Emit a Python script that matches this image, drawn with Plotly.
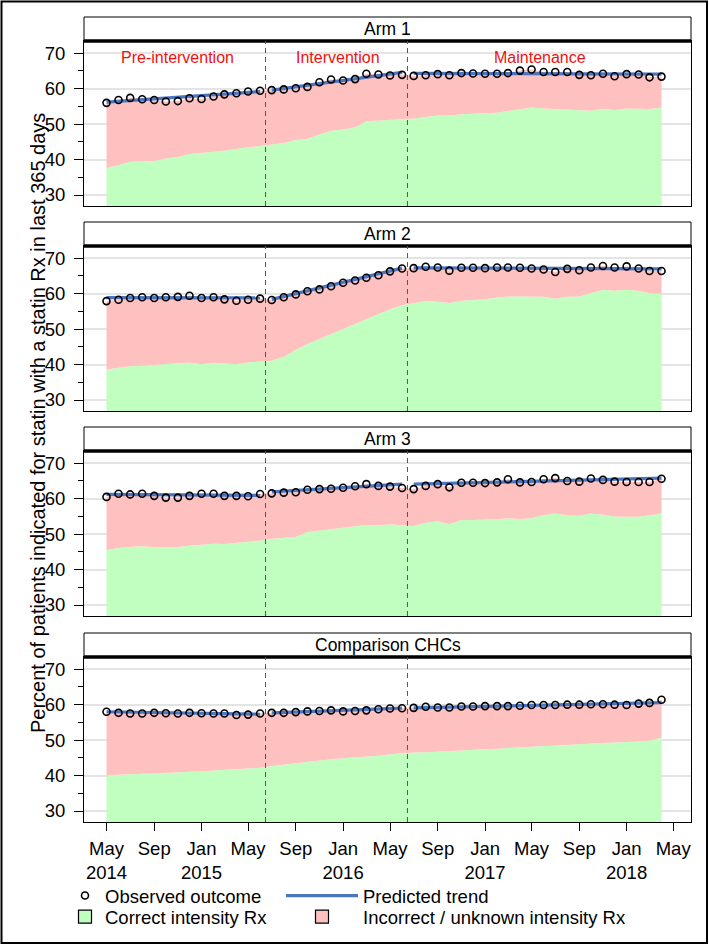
import plotly.graph_objects as go
import pandas as pd

# ---------------- data ----------------
months = pd.date_range("2014-05-01", "2018-04-01", freq="MS")
phase_names = ["Pre-intervention", "Intervention", "Maintenance"]
phase_lengths = [14, 12, 22]
phase_breaks = ["2015-06-15", "2016-06-15"]
phase_label_x = ["2014-11-01", "2015-12-20", "2017-05-22"]
panel_titles = ["Arm 1", "Arm 2", "Arm 3", "Comparison CHCs"]

obs_arm1 = [56.0, 56.8, 57.4, 57.0, 56.8, 56.4, 56.5, 57.3, 57.1, 57.8, 58.4, 58.7, 59.2, 59.4,
            59.6, 59.8, 60.1, 60.5, 61.8, 62.6, 62.3, 62.7, 64.2, 64.0, 63.7, 63.9,
            63.6, 63.8, 64.1, 63.8, 64.4, 64.3, 64.2, 64.2, 64.4, 65.1, 65.4, 64.7, 64.7, 64.7,
            63.9, 63.8, 64.2, 63.5, 64.1, 64.0, 63.2, 63.4]
correct_arm1 = [37.6, 38.4, 39.4, 39.5, 39.6, 40.3, 40.7, 41.6, 41.8, 42.2, 42.5, 43.1, 43.5, 43.8,
                44.2, 44.7, 45.5, 45.9, 47.1, 48.1, 48.5, 49.1, 50.8, 51.0, 51.3, 51.3,
                51.6, 52.0, 52.4, 52.4, 52.8, 52.9, 53.1, 53.2, 53.7, 54.2, 54.7, 54.4, 54.3, 54.2,
                54.1, 53.8, 54.3, 54.0, 54.4, 54.4, 54.3, 54.7]
trend_arm1 = [56.2, 59.2, 59.6, 64.6, 64.3, 64.1]

obs_arm2 = [57.9, 58.3, 58.8, 59.0, 58.8, 59.0, 59.1, 59.4, 58.8, 59.0, 58.4, 58.0, 58.3, 58.6,
            58.2, 59.0, 59.8, 60.7, 61.2, 62.1, 63.1, 63.7, 64.5, 65.2, 66.3, 67.1,
            67.2, 67.6, 67.4, 66.5, 67.3, 67.3, 67.2, 67.4, 67.4, 67.3, 67.1, 66.8, 66.1, 67.0,
            66.6, 67.4, 67.8, 67.4, 67.7, 67.1, 66.4, 66.4]
correct_arm2 = [38.6, 39.1, 39.5, 39.7, 40.0, 40.2, 40.4, 40.6, 40.1, 40.5, 40.4, 40.1, 40.6, 40.8,
                41.1, 42.2, 44.2, 45.8, 47.2, 48.7, 50.0, 51.5, 52.7, 54.2, 55.6, 56.7,
                57.3, 57.9, 57.7, 57.4, 58.0, 58.2, 58.4, 58.9, 59.2, 59.2, 59.2, 59.1, 58.6, 59.1,
                59.2, 60.1, 61.1, 60.8, 61.1, 60.8, 60.1, 60.0]
trend_arm2 = [58.9, 58.8, 58.4, 67.2, 67.3, 67.0]

obs_arm3 = [60.5, 61.4, 61.2, 61.4, 60.8, 60.3, 60.3, 60.8, 61.4, 61.4, 60.8, 60.8, 60.7, 61.3,
            61.5, 61.7, 61.8, 62.5, 62.7, 62.8, 63.1, 63.5, 64.1, 63.6, 63.4, 63.0,
            62.7, 63.6, 64.1, 63.2, 64.5, 64.5, 64.4, 64.6, 65.5, 64.6, 64.7, 65.5, 65.8, 65.0,
            64.8, 65.7, 65.3, 64.8, 64.7, 64.7, 64.7, 65.6]
correct_arm3 = [45.5, 46.1, 46.4, 46.6, 46.4, 46.3, 46.4, 46.7, 47.0, 47.3, 47.2, 47.5, 47.8, 48.2,
                48.7, 48.9, 49.2, 50.6, 51.0, 51.4, 51.8, 52.3, 52.6, 52.5, 52.8, 52.5,
                52.3, 53.2, 53.6, 52.8, 54.0, 54.0, 54.1, 54.2, 54.5, 54.3, 54.5, 55.4, 55.8, 55.3,
                55.2, 55.8, 55.5, 55.0, 54.9, 54.9, 55.3, 55.8]
trend_arm3 = [61.2, 60.9, 61.9, 64.1, 64.1, 65.8]

obs_chc = [58.0, 57.7, 57.5, 57.5, 57.7, 57.6, 57.5, 57.7, 57.6, 57.5, 57.5, 57.1, 57.2, 57.5,
           57.7, 57.7, 57.9, 58.1, 58.2, 58.4, 58.1, 58.2, 58.4, 58.7, 58.9, 59.0,
           59.1, 59.4, 59.2, 59.2, 59.5, 59.5, 59.6, 59.6, 59.6, 59.7, 59.9, 59.9, 59.9, 60.0,
           60.0, 60.1, 60.1, 60.0, 59.9, 60.3, 60.5, 61.4]
correct_chc = [40.1, 40.3, 40.4, 40.5, 40.6, 40.8, 40.9, 41.1, 41.2, 41.4, 41.5, 41.7, 41.9, 42.2,
               42.7, 43.1, 43.6, 44.0, 44.3, 44.6, 44.9, 45.1, 45.3, 45.6, 46.0, 46.3,
               46.5, 46.6, 46.7, 46.9, 47.1, 47.3, 47.4, 47.6, 47.8, 48.0, 48.2, 48.3, 48.5, 48.7,
               48.8, 49.0, 49.2, 49.3, 49.4, 49.6, 49.9, 50.7]
trend_chc = [58.0, 57.3, 57.7, 59.0, 59.1, 60.6]

observed = [obs_arm1, obs_arm2, obs_arm3, obs_chc]
correct = [correct_arm1, correct_arm2, correct_arm3, correct_chc]
trends = [trend_arm1, trend_arm2, trend_arm3, trend_chc]

x_tickvals = pd.date_range("2014-05-01", "2018-05-01", freq="4MS")
x_ticktext = ["May<br>2014", "Sep", "Jan<br>2015", "May", "Sep", "Jan<br>2016", "May",
              "Sep", "Jan<br>2017", "May", "Sep", "Jan<br>2018", "May"]
y_tickvals = [30, 40, 50, 60, 70]

# ---------------- style / layout constants ----------------
W, H = 709, 945
ML, MR, MT, MB = 84, 18, 17, 123
PH = H - MT - MB
panel_tops_px = [41, 246, 451, 657]
plot_h_px = 165
header_h_px = 24
FONT = "Liberation Sans, Arial, sans-serif"
GREEN = "#c0ffc0"
PINK = "#ffc0c0"
BLUE = "#4a76c0"

def fy(px):
    return (H - MB - px) / PH

def fx(px):
    return (px - ML) / (W - ML - MR)

fig = go.Figure()

seg_bounds = []
s = 0
for L in phase_lengths:
    seg_bounds.append((s, s + L - 1))
    s += L

for p in range(4):
    xa = "x" if p == 0 else f"x{p+1}"
    ya = "y" if p == 0 else f"y{p+1}"
    fig.add_trace(go.Scatter(x=months, y=correct[p], mode="lines", line=dict(width=0),
                             fill="tozeroy", fillcolor=GREEN, showlegend=False,
                             hoverinfo="skip", xaxis=xa, yaxis=ya))
    fig.add_trace(go.Scatter(x=months, y=observed[p], mode="lines", line=dict(width=0),
                             fill="tonexty", fillcolor=PINK, showlegend=False,
                             hoverinfo="skip", xaxis=xa, yaxis=ya))
    for k, (a, b) in enumerate(seg_bounds):
        fig.add_trace(go.Scatter(x=[months[a], months[b]],
                                 y=[trends[p][2 * k], trends[p][2 * k + 1]],
                                 mode="lines", line=dict(color=BLUE, width=3.2),
                                 name="Predicted trend", legendgroup="trend",
                                 legend="legend2", showlegend=(p == 0 and k == 0),
                                 xaxis=xa, yaxis=ya))
    fig.add_trace(go.Scatter(x=months, y=observed[p], mode="markers",
                             marker=dict(symbol="circle-open", size=7, color="black",
                                         line=dict(width=1.6, color="black")),
                             name="Observed outcome", legendgroup="obs", legend="legend",
                             showlegend=(p == 0), xaxis=xa, yaxis=ya))

fig.add_trace(go.Scatter(x=[None], y=[None], mode="markers", name="Correct intensity Rx",
                         marker=dict(symbol="square", size=13, color=GREEN,
                                     line=dict(width=1.2, color="black")),
                         legend="legend3", xaxis="x4", yaxis="y4"))
fig.add_trace(go.Scatter(x=[None], y=[None], mode="markers",
                         name="Incorrect / unknown intensity Rx",
                         marker=dict(symbol="square", size=13, color=PINK,
                                     line=dict(width=1.2, color="black")),
                         legend="legend4", xaxis="x4", yaxis="y4"))

legend_common = dict(orientation="v", xanchor="left", yanchor="top", traceorder="normal",
                     font=dict(size=18.5), bgcolor="rgba(0,0,0,0)", tracegroupgap=0,
                     borderwidth=0)
row1_top, row2_top = 877, 898
layout = dict(
    width=W, height=H,
    margin=dict(l=ML, r=MR, t=MT, b=MB, autoexpand=False),
    paper_bgcolor="white", plot_bgcolor="white",
    font=dict(family=FONT, size=18.5, color="black"),
    showlegend=True,
    legend=dict(x=fx(65), y=fy(row1_top), **legend_common),
    legend2=dict(x=fx(281), y=fy(row1_top), itemwidth=72, **legend_common),
    legend3=dict(x=fx(65), y=fy(row2_top), **legend_common),
    legend4=dict(x=fx(281), y=fy(row2_top), itemwidth=72, **legend_common),
)

shapes = []
annotations = []
for p in range(4):
    sfx = "" if p == 0 else str(p + 1)
    top = panel_tops_px[p]
    dom = [fy(top + plot_h_px), fy(top)]
    bottom_panel = (p == 3)
    layout[f"xaxis{sfx}"] = dict(
        domain=[0, 1], anchor=f"y{sfx}", type="date",
        range=["2014-03-04", "2018-06-16"],
        showline=True, mirror=True, linecolor="black", linewidth=1,
        showgrid=False, zeroline=False,
        tickmode="array", tickvals=x_tickvals, ticktext=x_ticktext,
        ticks="outside" if bottom_panel else "", ticklen=8, tickcolor="black",
        showticklabels=bottom_panel, tickfont=dict(size=18.5), ticklabelstandoff=2,
        **({} if p == 0 else {"matches": "x"}),
    )
    layout[f"yaxis{sfx}"] = dict(
        domain=dom, anchor=f"x{sfx}", range=[26.9, 73.45],
        showline=True, mirror=True, linecolor="black", linewidth=1,
        showgrid=True, gridcolor="#e4e4e4", gridwidth=1.5, zeroline=False,
        tickmode="array", tickvals=y_tickvals, ticks="outside", ticklen=9,
        tickcolor="black", tickfont=dict(size=18.5), ticklabelstandoff=5,
        minor=dict(ticks="outside", ticklen=5, dtick=5, tick0=0, tickcolor="black",
                   showgrid=False),
    )
    shapes.append(dict(type="rect", xref="paper", yref="paper", x0=0, x1=1,
                       y0=fy(top), y1=fy(top - header_h_px),
                       line=dict(color="black", width=1), fillcolor="white", layer="above"))
    shapes.append(dict(type="line", xref="paper", yref="paper", x0=0, x1=1,
                       y0=fy(top), y1=fy(top), line=dict(color="black", width=3.5),
                       layer="above"))
    annotations.append(dict(text=panel_titles[p], xref="paper", yref="paper", x=0.5,
                            y=fy(top - header_h_px / 2), xanchor="center", yanchor="middle",
                            showarrow=False, font=dict(size=17.5)))
    for xb in phase_breaks:
        shapes.append(dict(type="line", xref=f"x{sfx}", yref=f"y{sfx} domain",
                           x0=xb, x1=xb, y0=0, y1=1,
                           line=dict(color="#555555", width=1, dash="5px,4px"),
                           layer="above"))

for name, xl in zip(phase_names, phase_label_x):
    annotations.append(dict(text=name, xref="x", yref="y", x=xl, y=68.8,
                            xanchor="center", yanchor="middle", showarrow=False,
                            font=dict(size=16, color="#ee1111")))

annotations.append(dict(
    text="Percent of patients indicated for statin with a statin Rx in last 365 days",
    xref="paper", yref="paper", x=fx(38), y=fy(423), textangle=-90,
    xanchor="center", yanchor="middle", showarrow=False, font=dict(size=20)))

shapes.append(dict(type="rect", xref="paper", yref="paper",
                   x0=fx(1.5), x1=fx(707), y0=fy(943), y1=fy(1.5),
                   line=dict(color="black", width=2), fillcolor="rgba(0,0,0,0)"))

layout["shapes"] = shapes
layout["annotations"] = annotations
fig.update_layout(**layout)

fig.write_html("out.html", config={"displayModeBar": False},
               post_script="document.body.style.margin='0px';"
                           "document.body.style.overflow='hidden';")
